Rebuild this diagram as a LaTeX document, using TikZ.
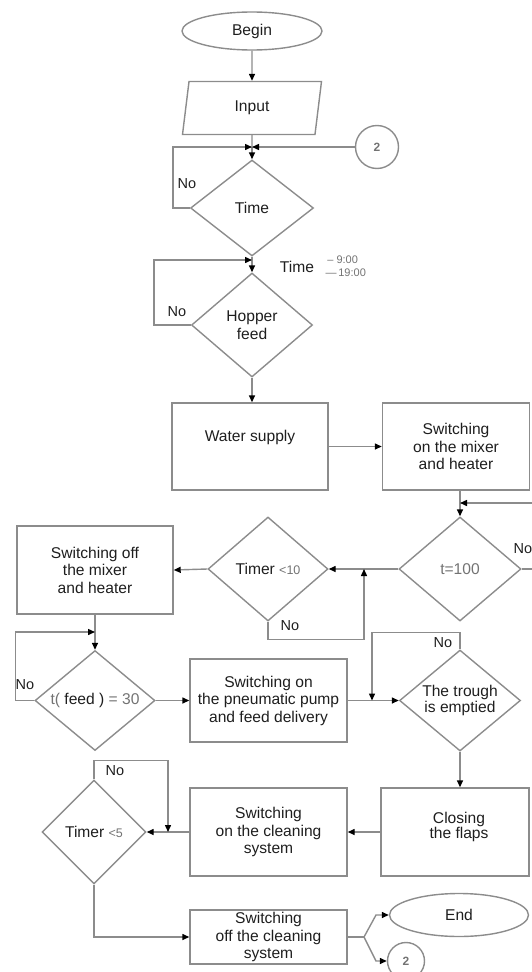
\documentclass[tikz,border=0pt]{standalone}
\usepackage{fontspec}
\setmainfont{Liberation Sans}
\usetikzlibrary{shapes.geometric,arrows.meta}
\definecolor{linec}{RGB}{140,140,140}
\definecolor{txtc}{RGB}{30,30,30}
\definecolor{lightt}{RGB}{115,115,115}
\begin{document}
\begin{tikzpicture}[x=1pt,y=-1pt,
  every node/.style={font=\fontsize{15.6}{17.5}\selectfont, text=txtc, align=center},
  box/.style={draw=linec, line width=1.4pt, rectangle, inner sep=0pt},
  dia/.style={draw=linec, line width=1.4pt, diamond, aspect=1.2, inner sep=0pt},
  oval/.style={draw=linec, line width=1.4pt, ellipse, inner sep=0pt},
  circ/.style={draw=linec, line width=1.4pt, circle, inner sep=0pt, text=lightt, font=\fontsize{12}{14}\selectfont\bfseries},
  conn/.style={draw=linec, line width=1.4pt},
  arr/.style={conn, -{Triangle[length=7pt,width=6pt,color=black]}},
  lbl/.style={font=\fontsize{14.5}{16}\selectfont},
  small/.style={font=\fontsize{11}{12.5}\selectfont, text=lightt}]
\useasboundingbox (0,0) rectangle (531,972);
% nodes
\node[oval, minimum width=140, minimum height=38] (begin) at (252,31) {Begin};
\node[draw=linec, line width=1.4pt, trapezium, trapezium left angle=65, trapezium right angle=115,
      trapezium stretches body, minimum width=139, minimum height=53, inner sep=0pt] (input) at (252,108) {Input};
\node[circ, minimum size=43] (ctwo) at (377,147) {2};
\node[dia, minimum width=123, minimum height=96] (time) at (252,208) {Time};
\node[lbl] (no1) at (187,184) {No};
\node (tlabel) at (297,267) {Time};
\node[small, align=left, anchor=west] (tvals) at (322,266) {\,– 9:00\\—\,19:00};
\node[dia, minimum width=121, minimum height=104] (hopper) at (252,325) {Hopper\\feed};
\node[lbl] (no2) at (177,312) {No};
\node[box, minimum width=156, minimum height=87] (water) at (250,446.5) {};
\node (watertxt) at (250,437) {Water supply};
\node[box, minimum width=147, minimum height=87] (mixer) at (456,446.5) {Switching\\on the mixer\\and heater};
\node[dia, minimum width=122, minimum height=104, text=lightt] (t100) at (460,569) {t=100};
\node[lbl, anchor=west] (no3) at (510,549) {No};
\node[dia, minimum width=120, minimum height=104] (timer10) at (268,569) {Timer \textcolor{lightt}{\fontsize{12.5}{14}\selectfont<10}};
\node[lbl] (no4) at (290,626) {No};
\node[box, minimum width=156, minimum height=88] (off) at (95,570) {Switching off\\the mixer\\and heater};
\node[dia, minimum width=120, minimum height=100] (tfeed) at (95,700.5) {\textcolor{lightt}{t(} feed ) \textcolor{lightt}{= 30}};
\node[lbl] (no5) at (25,685) {No};
\node[box, minimum width=157, minimum height=83] (pump) at (268.5,700.5) {Switching on\\the pneumatic pump\\and feed delivery};
\node[dia, minimum width=121, minimum height=101] (trough) at (460,700.5) {The trough\\[-2pt]is emptied};
\node[lbl] (no6) at (443,643) {No};
\node[box, minimum width=148, minimum height=88] (closing) at (455,832) {};
\node (closingtxt) at (459,827) {Closing\\[-3pt]the flaps};
\node[box, minimum width=157, minimum height=88] (clean) at (268.5,832) {Switching\\on the cleaning\\system};
\node[dia, minimum width=104, minimum height=104] (timer5) at (94,832) {Timer \textcolor{lightt}{\fontsize{12.5}{14}\selectfont<5}};
\node[lbl] (no7) at (115,771) {No};
\node[box, minimum width=157, minimum height=54] (coff) at (268.5,937) {Switching\\off the cleaning\\system};
\node[oval, minimum width=139, minimum height=43] (endn) at (459,915) {End};
\node[circ, minimum size=37] (c2b) at (406,961) {2};
% merge points
\coordinate (m1) at (252,147);
\coordinate (m2) at (252,260);
\coordinate (m3) at (460,503);
\coordinate (m4) at (364,569);
\coordinate (m5) at (95,632);
\coordinate (m6) at (372,700.5);
\coordinate (m7) at (168,832);
\coordinate (split) at (364,937);
% connectors
\draw[arr] (begin.south) -- (input.north);
\draw[conn] (input.south) -- (m1);
\draw[arr] (m1) -- (time.north);
\draw[arr] (time.west) -- ++(-17,0) |- (m1);
\draw[arr] (ctwo.west) -- (m1);
\draw[conn] (time.south) -- (m2);
\draw[arr] (m2) -- (hopper.north);
\draw[arr] (hopper.west) -- ++(-37,0) |- (m2);
\draw[arr] (hopper.south) -- (hopper.south |- water.north);
\draw[arr] (water.east) -- (mixer.west);
\draw[conn] (mixer.south -| m3) -- (m3);
\draw[arr] (m3) -- (t100.north);
\draw[arr] (t100.east) -- ++(30,0) |- (m3);
\draw[arr] (t100.west) -- (timer10.east);
\draw[arr] (timer10.south) -- ++(0,18) -| (m4);
\draw[arr] (timer10.west) -- (off.east);
\draw[conn] (off.south) -- (m5);
\draw[arr] (m5) -- (tfeed.north);
\draw[arr] (tfeed.west) -- ++(-19,0) |- (m5);
\draw[arr] (tfeed.east) -- (pump.west);
\draw[arr] (pump.east) -- (trough.west);
\draw[arr] (trough.north) -- ++(0,-17) -| (m6);
\draw[arr] (trough.south) -- (trough.south |- closing.north);
\draw[arr] (closing.west) -- (clean.east);
\draw[arr] (clean.west) -- (timer5.east);
\draw[arr] (timer5.north) -- ++(0,-19) -| (m7);
\draw[arr] (timer5.south) |- (coff.west);
\draw[conn] (coff.east) -- (split);
\draw[arr] (split) -- ++(12,-22) -- (endn.west);
\draw[arr] (split) -- ++(12,24) -- (c2b.west);
\end{tikzpicture}
\end{document}
